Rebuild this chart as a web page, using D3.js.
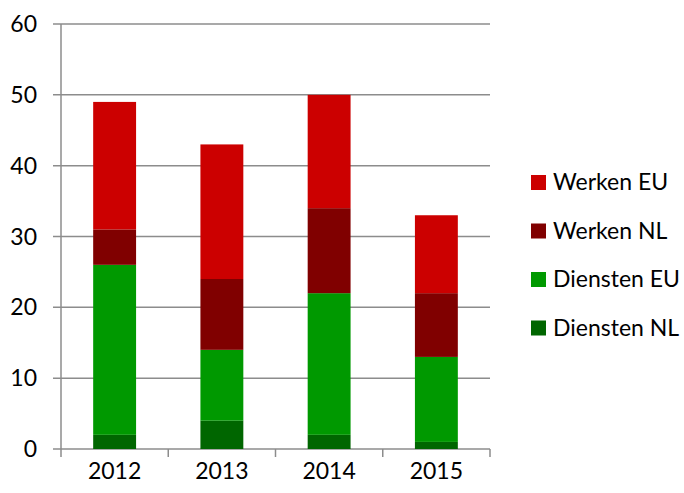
<!DOCTYPE html>
<html>
<head>
<meta charset="utf-8">
<script src="https://cdn.jsdelivr.net/npm/d3@7"></script>
<style>
  body { margin: 0; background: #fff; }
  text { font-family: Lato, "Open Sans", sans-serif; fill: #000; }
</style>
</head>
<body>
<div id="chart"></div>
<script>
// data
const years = ["2012", "2013", "2014", "2015"];
const seriesNames = ["Diensten NL", "Diensten EU", "Werken NL", "Werken EU"];
const dienstenNL = [2, 4, 2, 1];
const dienstenEU = [24, 10, 20, 12];
const werkenNL = [5, 10, 12, 9];
const werkenEU = [18, 19, 16, 11];
const yTicks = [0, 10, 20, 30, 40, 50, 60];

const colors = {
  "Werken EU": "#cc0000",
  "Werken NL": "#800000",
  "Diensten EU": "#009900",
  "Diensten NL": "#006600"
};

const width = 684, height = 493;
const margin = { top: 24, right: 194, bottom: 44, left: 61 };

const svg = d3.select("#chart").append("svg")
  .attr("width", width)
  .attr("height", height);

const rows = years.map((y, i) => ({
  year: y,
  "Diensten NL": dienstenNL[i],
  "Diensten EU": dienstenEU[i],
  "Werken NL": werkenNL[i],
  "Werken EU": werkenEU[i]
}));

const stack = d3.stack().keys(seriesNames)(rows);

const x = d3.scaleBand()
  .domain(years)
  .range([margin.left, width - margin.right])
  .paddingInner(0.6)
  .paddingOuter(0.3);

const y = d3.scaleLinear()
  .domain([0, 60])
  .range([height - margin.bottom, margin.top]);

// gridlines
svg.append("g")
  .selectAll("line")
  .data(yTicks)
  .enter()
  .append("line")
  .attr("x1", margin.left - 8)
  .attr("x2", width - margin.right)
  .attr("y1", d => y(d))
  .attr("y2", d => y(d))
  .attr("stroke", "#8c8c8c")
  .attr("stroke-width", 1.5);

// y axis line
svg.append("line")
  .attr("x1", margin.left).attr("x2", margin.left)
  .attr("y1", y(60)).attr("y2", y(0))
  .attr("stroke", "#8c8c8c")
  .attr("stroke-width", 1.5);

// y labels
svg.append("g")
  .selectAll("text")
  .data(yTicks)
  .enter()
  .append("text")
  .attr("x", margin.left - 24)
  .attr("y", d => y(d))
  .attr("dy", "0.35em")
  .attr("text-anchor", "end")
  .style("font-size", "23px")
  .text(d => d);

// x tick marks at band boundaries
const step = x.step();
const xEdges = d3.range(years.length + 1).map(i => margin.left + i * step);
svg.append("g")
  .selectAll("line")
  .data(xEdges)
  .enter()
  .append("line")
  .attr("x1", d => d).attr("x2", d => d)
  .attr("y1", y(0)).attr("y2", y(0) + 8)
  .attr("stroke", "#8c8c8c")
  .attr("stroke-width", 1.5);

// bars
svg.append("g")
  .selectAll("g")
  .data(stack)
  .enter()
  .append("g")
  .attr("fill", d => colors[d.key])
  .selectAll("rect")
  .data(d => d)
  .enter()
  .append("rect")
  .attr("x", d => x(d.data.year))
  .attr("width", x.bandwidth())
  .attr("y", d => y(d[1]))
  .attr("height", d => y(d[0]) - y(d[1]));

// x labels
svg.append("g")
  .selectAll("text")
  .data(years)
  .enter()
  .append("text")
  .attr("x", d => x(d) + x.bandwidth() / 2)
  .attr("y", y(0) + 30)
  .attr("text-anchor", "middle")
  .style("font-size", "23px")
  .text(d => d);

// legend
const legendKeys = ["Werken EU", "Werken NL", "Diensten EU", "Diensten NL"];
const legend = svg.append("g")
  .selectAll("g")
  .data(legendKeys)
  .enter()
  .append("g")
  .attr("transform", (d, i) => "translate(531," + (182 + i * 48.5) + ")");

legend.append("rect")
  .attr("x", 0)
  .attr("y", -7)
  .attr("width", 15)
  .attr("height", 15)
  .attr("fill", d => colors[d]);

legend.append("text")
  .attr("x", 22)
  .attr("dy", "0.35em")
  .style("font-size", "23px")
  .text(d => d);
</script>
</body>
</html>
